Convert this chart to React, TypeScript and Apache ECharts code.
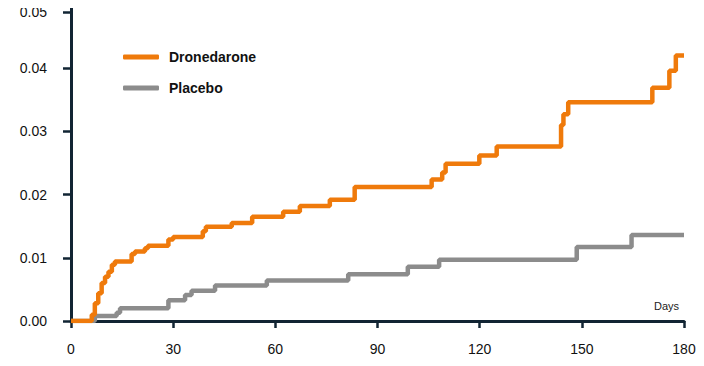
import React, { useEffect, useRef } from "react";
import * as echarts from "echarts";

const seriesNames = ["Dronedarone", "Placebo"];

const droneDays = [0, 6.1, 7, 8, 9, 10, 11, 12, 12.9, 17.8, 18.8, 21.7, 22.6, 28.6, 30, 38.7, 39.6, 47.2, 53.2, 62.3, 67.2, 76, 83.3, 105.9, 109, 110, 119.9, 125, 143.9, 144.6, 146, 170.7, 175.7, 177.6, 180];
const droneVals = [0, 0.001, 0.0028, 0.0044, 0.006, 0.007, 0.0078, 0.0089, 0.0094, 0.0106, 0.011, 0.0115, 0.0119, 0.0129, 0.0133, 0.0142, 0.0149, 0.0155, 0.0165, 0.0173, 0.0182, 0.0192, 0.0212, 0.0224, 0.0235, 0.0249, 0.0262, 0.0276, 0.031, 0.0327, 0.0346, 0.0369, 0.0396, 0.042, 0.042];

const placeboDays = [0, 7, 13.4, 14.4, 28.6, 33.5, 35.4, 42.3, 57.5, 81.4, 98.9, 108.1, 148.5, 164.6, 180];
const placeboVals = [0, 0.0008, 0.0013, 0.002, 0.0033, 0.0041, 0.0048, 0.0056, 0.0064, 0.0074, 0.0086, 0.0097, 0.0117, 0.0136, 0.0136];

const yTickValues = [0, 0.01, 0.02, 0.03, 0.04, 0.0489];
const yTickLabels = ["0.00", "0.01", "0.02", "0.03", "0.04", "0.05"];

const xAxisName = "Days";

const ORANGE = "#ef7a0b";
const GRAY = "#8c8c8c";
const AXIS = "#112433";
const FONT = "'Liberation Sans', Arial, sans-serif";

export default function App() {
  const ref = useRef<HTMLDivElement>(null);
  useEffect(() => {
    if (!ref.current) return;
    const chart = echarts.init(ref.current, undefined, { renderer: "svg" });
    const droneData = droneDays.map((d, i) => [d, droneVals[i]]);
    const placeboData = placeboDays.map((d, i) => [d, placeboVals[i]]);
    chart.setOption({
      animation: false,
      backgroundColor: "#ffffff",
      grid: { left: 71, right: 20, top: 5, bottom: 45, containLabel: false },
      legend: {
        data: seriesNames,
        orient: "vertical",
        left: 123,
        top: 50,
        padding: 0,
        itemWidth: 36,
        itemHeight: 5,
        itemGap: 17,
        icon: "roundRect",
        textStyle: {
          fontFamily: FONT,
          fontSize: 14,
          fontWeight: "bold",
          color: "#111111",
          padding: [0, 0, 0, 5],
        },
      },
      xAxis: {
        type: "value",
        min: 0,
        max: 180,
        interval: 30,
        name: xAxisName,
        nameLocation: "end",
        nameGap: -30,
        nameTextStyle: {
          fontFamily: FONT,
          fontSize: 11,
          color: "#222222",
          verticalAlign: "bottom",
          lineHeight: 30,
        },
        axisLine: { show: true, lineStyle: { color: AXIS, width: 3 } },
        axisTick: { show: true, length: 7, lineStyle: { color: AXIS, width: 2.5 } },
        axisLabel: {
          margin: 21,
          fontFamily: FONT,
          fontSize: 14,
          color: "#111111",
        },
        splitLine: { show: false },
      },
      yAxis: {
        type: "value",
        min: 0,
        max: 0.05,
        axisLine: { show: true, lineStyle: { color: AXIS, width: 3 } },
        axisTick: {
          show: true,
          length: 8,
          customValues: yTickValues,
          lineStyle: { color: AXIS, width: 2.5 },
        },
        axisLabel: {
          margin: 24,
          fontFamily: FONT,
          fontSize: 14,
          color: "#111111",
          customValues: yTickValues,
          formatter: (v: number) => {
            let best = 0;
            for (let i = 0; i < yTickValues.length; i++) {
              if (Math.abs(yTickValues[i] - v) < Math.abs(yTickValues[best] - v)) best = i;
            }
            return yTickLabels[best];
          },
        },
        splitLine: { show: false },
      },
      series: [
        {
          name: seriesNames[1],
          type: "line",
          step: "end",
          data: placeboData,
          showSymbol: false,
          symbol: "none",
          lineStyle: { color: GRAY, width: 4.5 },
          itemStyle: { color: GRAY },
          z: 2,
        },
        {
          name: seriesNames[0],
          type: "line",
          step: "end",
          data: droneData,
          showSymbol: false,
          symbol: "none",
          lineStyle: { color: ORANGE, width: 4.5 },
          itemStyle: { color: ORANGE },
          z: 3,
        },
      ],
    });
    return () => chart.dispose();
  }, []);
  return <div ref={ref} style={{ width: 704, height: 366, margin: -8 }} />;
}
